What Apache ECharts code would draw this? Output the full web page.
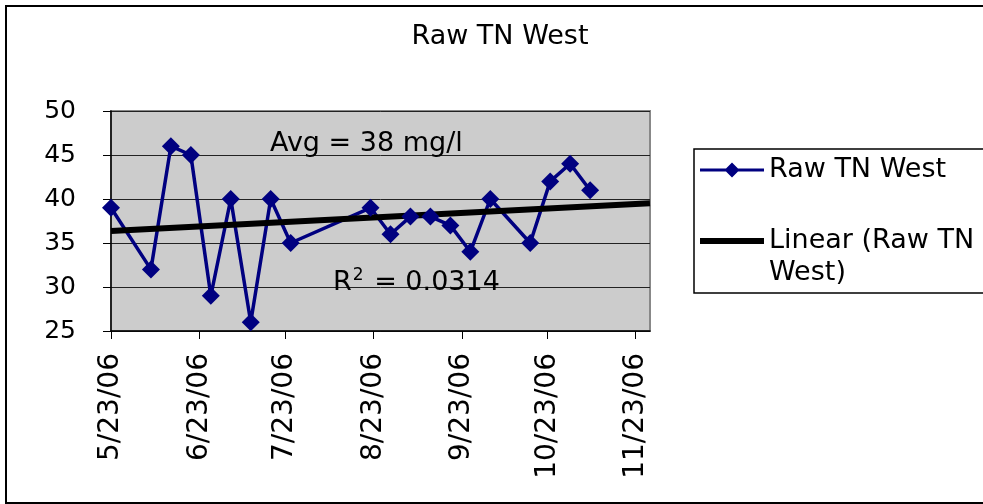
<!DOCTYPE html>
<html>
<head>
<meta charset="utf-8">
<script src="https://cdn.jsdelivr.net/npm/echarts@6/dist/echarts.min.js"></script>
<style>
html,body{margin:0;padding:0;background:#fff;}
#chart{width:983px;height:504px;}
</style>
</head>
<body>
<div id="chart"></div>
<script>
// Sample dates (M/D/YYYY) and Raw TN West values (mg/l)
const sampleDates = ['5/23/2006','6/6/2006','6/13/2006','6/20/2006','6/27/2006','7/4/2006','7/11/2006','7/18/2006','7/25/2006','8/22/2006','8/29/2006','9/5/2006','9/12/2006','9/19/2006','9/26/2006','10/3/2006','10/17/2006','10/24/2006','10/31/2006','11/7/2006'];
const rawTN = [39,32,46,45,29,40,26,40,35,39,36,38,38,37,34,40,35,42,44,41];
// Axis tick dates
const tickDates = ['5/23/2006','6/23/2006','7/23/2006','8/23/2006','9/23/2006','10/23/2006','11/23/2006'];
const axisStart = '5/23/2006';
const axisEnd = '11/28/2006';
const yTicks = [25,30,35,40,45,50];

function toTs(s){const p=s.split('/').map(Number);return new Date(p[2],p[0]-1,p[1]).getTime();}
function fmt(ts){const d=new Date(ts);return (d.getMonth()+1)+'/'+d.getDate()+'/'+String(d.getFullYear()).slice(2);}

const xs = sampleDates.map(toTs);
const seriesData = xs.map((x,i)=>[x,rawTN[i]]);
// linear regression (trendline)
const DAY=86400000;
const dx = xs.map(x=>(x-xs[0])/DAY);
const n=dx.length;
const mx=dx.reduce((a,b)=>a+b,0)/n, my=rawTN.reduce((a,b)=>a+b,0)/n;
let sxy=0,sxx=0,syy=0;
for(let i=0;i<n;i++){sxy+=(dx[i]-mx)*(rawTN[i]-my);sxx+=(dx[i]-mx)**2;syy+=(rawTN[i]-my)**2;}
const slope=sxy/sxx, icpt=my-slope*mx;
const r2=(sxy*sxy)/(sxx*syy);
const tMin=toTs(axisStart), tMax=toTs(axisEnd);
const trend=[tMin,tMax].map(t=>[t, icpt+slope*(t-xs[0])/DAY]);
const tickTs = tickDates.map(toTs);

const FONT='DejaVu Sans';
const chart=echarts.init(document.getElementById('chart'));
chart.setOption({
  animation:false,
  backgroundColor:'#fff',
  textStyle:{fontFamily:FONT},
  grid:{left:111,right:333,top:111,bottom:173,show:true,backgroundColor:'#cccccc',borderColor:'#888',borderWidth:2},
  xAxis:{
    type:'value',min:tMin,max:tMax,
    axisLine:{lineStyle:{color:'#000',width:1.5}},
    axisTick:{show:true,length:8,lineStyle:{color:'#000'},customValues:tickTs},
    axisLabel:{rotate:90,margin:22,fontSize:28,color:'#000',fontFamily:FONT,customValues:tickTs,formatter:v=>fmt(v)},
    splitLine:{show:false}
  },
  yAxis:{
    type:'value',min:yTicks[0],max:yTicks[yTicks.length-1],interval:5,
    axisLine:{show:true,lineStyle:{color:'#000',width:1.5}},
    axisTick:{show:true,length:8,lineStyle:{color:'#000'}},
    axisLabel:{margin:35,fontSize:25,color:'#000',fontFamily:FONT},
    splitLine:{show:true,lineStyle:{color:'#222',width:1}}
  },
  legend:{
    orient:'vertical',left:700,top:154,padding:0,itemGap:7,itemWidth:64,itemHeight:18,
    textStyle:{fontSize:27,color:'#000',fontFamily:FONT,lineHeight:32},
    formatter:function(name){return name==='Linear (Raw TN West)'?'\nLinear (Raw TN\nWest)':name;},
    data:[
      {name:'Raw TN West',icon:'path://M0,7.5L26,7.5L32,1.5L38,7.5L64,7.5L64,10.5L38,10.5L32,16.5L26,10.5L0,10.5Z',itemStyle:{color:'#000080'}},
      {name:'Linear (Raw TN West)',icon:'path://M0,0h64v6h-64z',itemStyle:{color:'#000'}}
    ]
  },
  series:[
    {name:'Raw TN West',type:'line',data:seriesData,color:'#000080',symbol:'diamond',symbolSize:18,
     lineStyle:{color:'#000080',width:3.5},itemStyle:{color:'#000080'}},
    {name:'Linear (Raw TN West)',type:'line',data:trend,color:'#000',symbol:'none',
     lineStyle:{color:'#000',width:6},z:3}
  ],
  graphic:[
    {type:'rect',shape:{x:6,y:6,width:1100,height:497},style:{fill:'none',stroke:'#000',lineWidth:2},silent:true},
    {type:'rect',shape:{x:694,y:149,width:400,height:144},style:{fill:'none',stroke:'#000',lineWidth:1.5},silent:true},
    {type:'text',x:500,y:37,style:{text:'Raw TN West',font:'27px "DejaVu Sans"',fill:'#000',align:'center',verticalAlign:'middle'}},
    {type:'text',x:270,y:144,z:10,style:{text:'Avg = '+Math.round(my)+' mg/l',font:'27px "DejaVu Sans"',fill:'#000',align:'left',verticalAlign:'middle'}},
    {type:'text',x:333,y:283,z:10,style:{text:'{r|R}{s|2}{r| = '+r2.toFixed(4)+'}',align:'left',verticalAlign:'middle',
      rich:{r:{fontSize:27,fontFamily:FONT,fill:'#000',lineHeight:32},s:{fontSize:17,fontFamily:FONT,fill:'#000',padding:[0,2,14,1]}}}}
  ]
});
</script>
</body>
</html>
